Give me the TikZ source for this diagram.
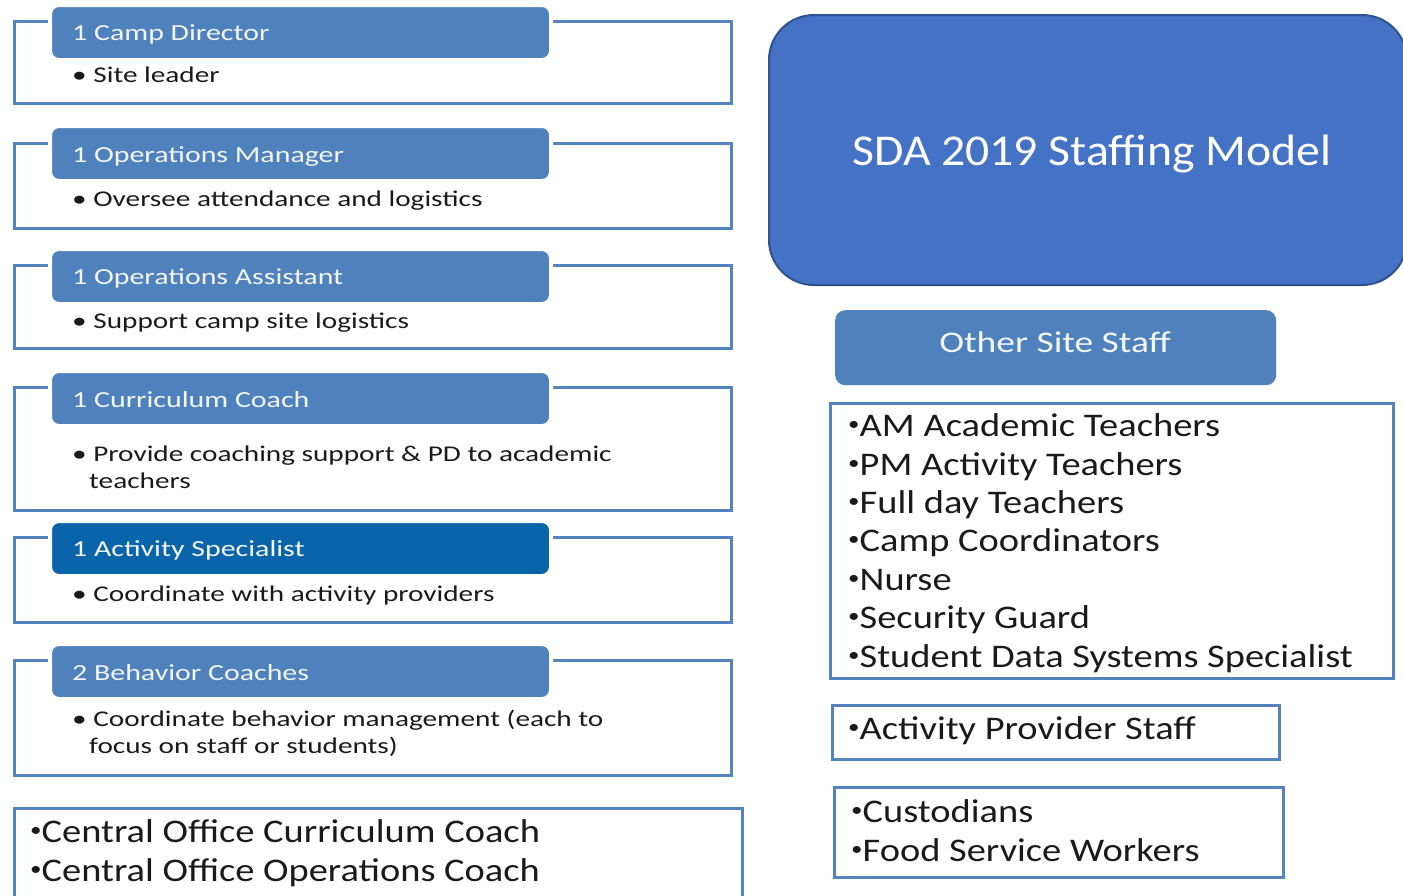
\documentclass[tikz,border=0pt]{standalone}
\usepackage{fontspec}
\setmainfont{Carlito}

\definecolor{headblue}{RGB}{79,129,189}
\definecolor{actblue}{RGB}{10,100,170}
\definecolor{frameblue}{RGB}{84,131,190}
\definecolor{titleblue}{RGB}{68,114,196}
\definecolor{titleedge}{RGB}{47,82,143}
\definecolor{headwhite}{RGB}{242,245,249}
\definecolor{inkgray}{RGB}{26,26,26}

% wide set text, left column and right column
\newcommand{\leftwide}[1]{\scalebox{1.3}[1]{#1}}
\newcommand{\rightwide}[1]{\scalebox{1.165}[1]{#1}}
% small list bullet
\newcommand{\smallbullet}{\raisebox{0.18em}{\scalebox{0.6}{•}}}

\tikzset{
  frame/.style={draw=frameblue, line width=3pt},
  headbox/.style={fill=headblue, draw=white, line width=4pt, rounded corners=9pt,
    minimum width=501pt, minimum height=55pt, anchor=north west, inner sep=0pt},
  headtext/.style={anchor=base west, inner sep=0pt, text=headwhite, font=\fontsize{23}{27}\selectfont},
  itemtext/.style={anchor=base west, inner sep=0pt, text=inkgray, font=\fontsize{22.5}{27}\selectfont},
  listtext/.style={anchor=base west, inner sep=0pt, text=inkgray, font=\fontsize{33}{38}\selectfont},
}

\begin{document}
\begin{tikzpicture}[x=1pt, y=-1pt]
  \useasboundingbox (0,0) rectangle (1403,895);

  % left column: role blocks
  \draw[frame] (14,21) rectangle (731,103);
  \node[headbox] (director) at (48,3) {};
  \node[headtext] (director-t) at (72,40) {\leftwide{1 Camp Director}};
  \node[itemtext] (director-b) at (72,82) {\leftwide{• Site leader}};

  \draw[frame] (14,143) rectangle (731,228);
  \node[headbox] (opsmgr) at (48,124) {};
  \node[headtext] (opsmgr-t) at (72,162) {\leftwide{1 Operations Manager}};
  \node[itemtext] (opsmgr-b) at (72,206) {\leftwide{• Oversee attendance and logistics}};

  \draw[frame] (14,265) rectangle (731,348);
  \node[headbox] (opsasst) at (48,247) {};
  \node[headtext] (opsasst-t) at (72,284) {\leftwide{1 Operations Assistant}};
  \node[itemtext] (opsasst-b) at (72,328) {\leftwide{• Support camp site logistics}};

  \draw[frame] (14,387) rectangle (731,510);
  \node[headbox] (curric) at (48,369) {};
  \node[headtext] (curric-t) at (72,407) {\leftwide{1 Curriculum Coach}};
  \node[itemtext] (curric-b) at (72,461) {\leftwide{• Provide coaching support \& PD to academic}};
  \node[itemtext] (curric-c) at (89,488) {\leftwide{teachers}};

  \draw[frame] (14,537) rectangle (731,622);
  \node[headbox, fill=actblue] (activity) at (48,519) {};
  \node[headtext] (activity-t) at (72,556) {\leftwide{1 Activity Specialist}};
  \node[itemtext] (activity-b) at (72,601) {\leftwide{• Coordinate with activity providers}};

  \draw[frame] (14,660) rectangle (731,775);
  \node[headbox] (behavior) at (48,642) {};
  \node[headtext] (behavior-t) at (72,680) {\leftwide{2 Behavior Coaches}};
  \node[itemtext] (behavior-b) at (72,726) {\leftwide{• Coordinate behavior management (each to}};
  \node[itemtext] (behavior-c) at (89,753) {\leftwide{focus on staff or students)}};

  % central office
  \draw[frame] (14,808) rectangle (742,905);
  \node[listtext] (central1) at (30,842) {\rightwide{\smallbullet Central Office Curriculum Coach}};
  \node[listtext] (central2) at (30,881) {\rightwide{\smallbullet Central Office Operations Coach}};

  % right column
  \node[fill=titleblue, draw=titleedge, line width=2pt, rounded corners=45pt,
    minimum width=638pt, minimum height=270pt, anchor=north west] (title) at (768,14) {};
  \node[anchor=base, inner sep=0pt, text=white, font=\fontsize{44}{50}\selectfont]
    (title-t) at (1092,165) {\scalebox{1.085}[1]{SDA 2019 Staffing Model}};

  \node[fill=headblue, rounded corners=10pt, minimum width=441pt, minimum height=75pt,
    anchor=north west, inner sep=0pt] (other) at (835,310) {};
  \node[anchor=base, inner sep=0pt, text=headwhite, font=\fontsize{30}{34}\selectfont]
    (other-t) at (1055,352) {\scalebox{1.25}[1]{Other Site Staff}};

  \draw[frame] (830,403) rectangle (1393,678);
  \node[listtext] (staff1) at (848,436.6) {\rightwide{\smallbullet AM Academic Teachers}};
  \node[listtext] (staff2) at (848,475.0) {\rightwide{\smallbullet PM Activity Teachers}};
  \node[listtext] (staff3) at (848,513.4) {\rightwide{\smallbullet Full day Teachers}};
  \node[listtext] (staff4) at (848,551.8) {\rightwide{\smallbullet Camp Coordinators}};
  \node[listtext] (staff5) at (848,590.2) {\rightwide{\smallbullet Nurse}};
  \node[listtext] (staff6) at (848,628.6) {\rightwide{\smallbullet Security Guard}};
  \node[listtext] (staff7) at (848,667.0) {\rightwide{\smallbullet Student Data Systems Specialist}};

  \draw[frame] (832,705) rectangle (1279,759);
  \node[listtext] (provider) at (848,739) {\rightwide{\smallbullet Activity Provider Staff}};

  \draw[frame] (834,787) rectangle (1283,877);
  \node[listtext] (custod) at (851,822) {\rightwide{\smallbullet Custodians}};
  \node[listtext] (food) at (851,861) {\rightwide{\smallbullet Food Service Workers}};
\end{tikzpicture}
\end{document}
